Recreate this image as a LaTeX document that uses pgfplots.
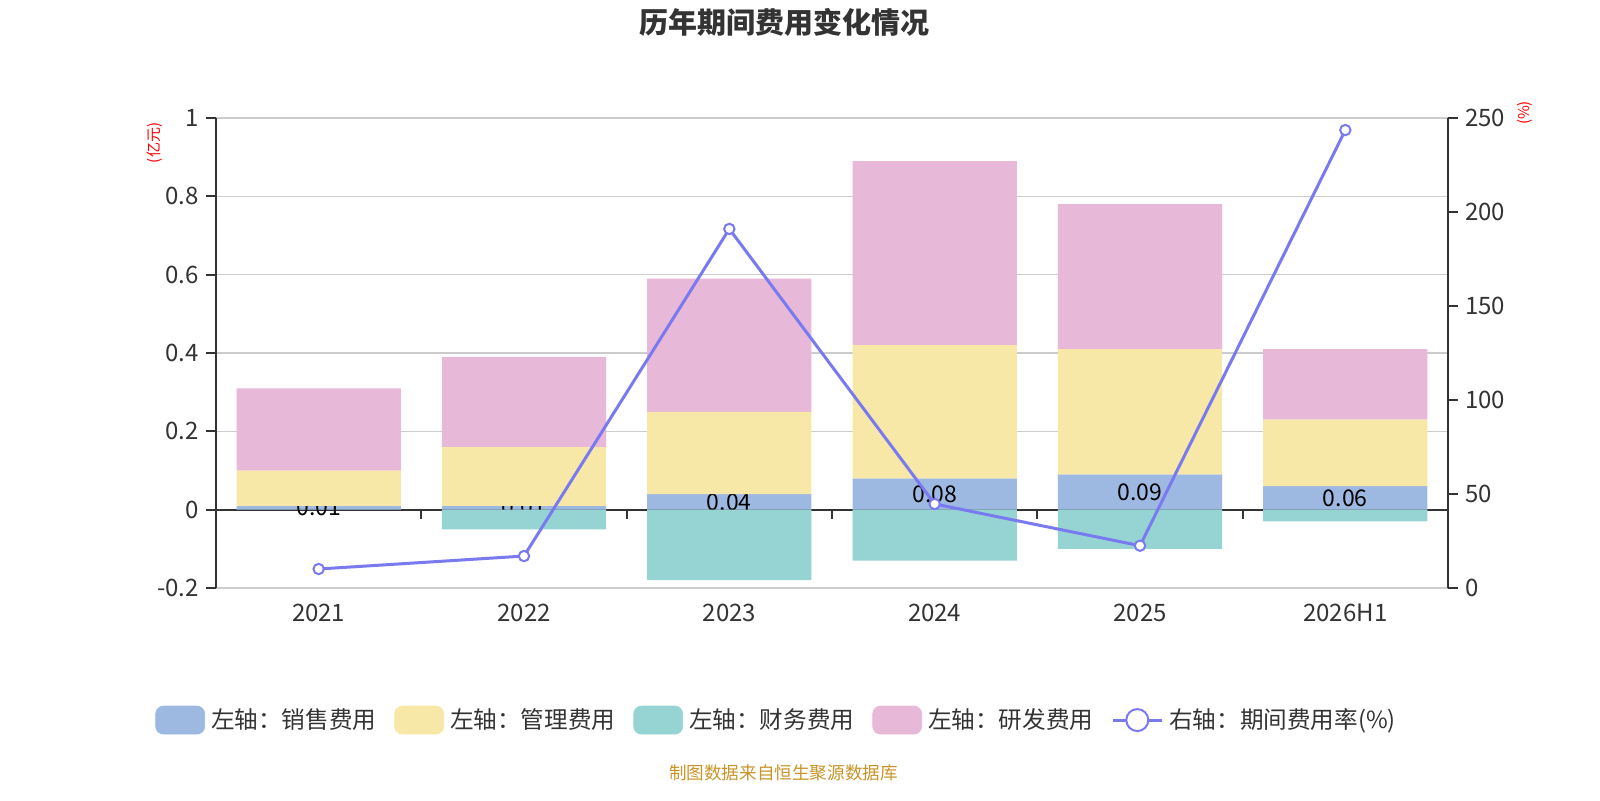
\documentclass[border=0pt]{standalone}
\usepackage{fontspec}
\setmainfont{Noto Sans CJK SC}
\usepackage{pgfplots}
\usepackage{pgfplotstable}
\pgfplotsset{compat=1.18}
\definecolor{colSal}{RGB}{157,185,226}
\definecolor{colMgt}{RGB}{248,232,168}
\definecolor{colFin}{RGB}{150,212,212}
\definecolor{colRnd}{RGB}{231,184,216}
\definecolor{colLine}{RGB}{122,122,240}
\definecolor{gridc}{RGB}{204,204,204}
\definecolor{txt}{RGB}{51,51,51}
\definecolor{src}{RGB}{200,148,40}
\pgfplotstableread{
x y h lab
0 0.01 0.005 0.01
1 0.01 0.005 0.01
2 0.04 0.020 0.04
3 0.08 0.040 0.08
4 0.09 0.045 0.09
5 0.06 0.030 0.06
}\sales
\pgfplotstableread{
x y
0 0.09
1 0.15
2 0.21
3 0.34
4 0.32
5 0.17
}\mgmt
\pgfplotstableread{
x y
0 0.21
1 0.23
2 0.34
3 0.47
4 0.37
5 0.18
}\rnd
\pgfplotstableread{
x y
0 0.00
1 -0.05
2 -0.18
3 -0.13
4 -0.10
5 -0.03
}\fin
\pgfplotstableread{
x y
0 10.1
1 17.0
2 191.0
3 44.7
4 22.5
5 243.6
}\rate
\pgfplotsset{
  base/.style={at={(108pt,106pt)}, anchor=south west, scale only axis,
    width=616pt, height=235pt, xmin=-0.5, xmax=5.5},
  tl/.style={font=\fontsize{12}{14}\selectfont, text=txt}
}
\begin{document}
\begin{tikzpicture}
\useasboundingbox (0,0) rectangle (800pt,400pt);
% frame axis
\begin{axis}[base, ymin=-0.2, ymax=1,
  ytick={-0.2,0,0.2,0.4,0.6,0.8,1},
  yticklabels={-0.2,0,0.2,0.4,0.6,0.8,1},
  xtick={0,1,2,3,4,5},
  xticklabels={2021,2022,2023,2024,2025,2026H1},
  axis y line*=left, axis x line*=bottom,
  axis line style={-},
  x axis line style={draw=none},
  xtick style={draw=none},
  y axis line style={txt, line width=1pt},
  ytick style={txt, line width=1pt},
  tick align=outside, major tick length=5pt,
  ymajorgrids, grid style={gridc, line width=0.6pt},
  ticklabel style={tl},
  xticklabel style={yshift=0.5pt},
]
\draw[txt, line width=1pt] (axis cs:-0.5,0) -- (axis cs:5.5,0);
\pgfplotsinvokeforeach{0.5,1.5,2.5,3.5,4.5}{
  \draw[txt, line width=1pt] (axis cs:#1,0) -- ++(0pt,-4.5pt);
}
\end{axis}
% sales bars and their labels
\begin{axis}[base, ymin=-0.2, ymax=1, hide axis]
\addplot[ybar, bar width=0.8, bar shift=0pt, fill=colSal, draw=none] table[x=x, y=y] {\sales};
\addplot[only marks, mark=*, mark size=0pt, mark options={draw=none, fill=none},
  nodes near coords, point meta=explicit symbolic,
  every node near coord/.style={anchor=center,
    font=\fontsize{11.5}{13}\selectfont, text=black, inner sep=0pt}]
  table[x=x, y=h, meta=lab] {\sales};
\end{axis}
% stacked positive bars above sales
\begin{axis}[base, ymin=-0.2, ymax=1, hide axis, ybar stacked, bar width=0.8]
\addplot[fill=none, draw=none] table[x=x, y=y] {\sales};
\addplot[fill=colMgt, draw=none] table[x=x, y=y] {\mgmt};
\addplot[fill=colRnd, draw=none] table[x=x, y=y] {\rnd};
\end{axis}
% negative finance bars
\begin{axis}[base, ymin=-0.2, ymax=1, hide axis, ybar, bar width=0.8, bar shift=0pt]
\addplot[fill=colFin, draw=none] table[x=x, y=y] {\fin};
\end{axis}
% right axis, line, legend
\begin{axis}[base, ymin=0, ymax=250,
  axis y line*=right, axis x line=none,
  axis line style={-},
  y axis line style={txt, line width=1pt},
  ytick={0,50,100,150,200,250},
  yticklabels={0,50,100,150,200,250},
  ytick style={txt, line width=1pt},
  tick align=outside, major tick length=5pt,
  ticklabel style={tl},
  legend columns=5,
  legend style={at={(0.4558,-0.281)}, anchor=center, draw=none, fill=none,
    font=\fontsize{11.8}{14}\selectfont, text=txt,
    /tikz/every odd column/.append style={column sep=1pt},
    /tikz/every even column/.append style={column sep=7pt}},
]
\addplot[colLine, line width=1.5pt, mark=*, mark size=2.6pt,
  mark options={fill=white, draw=colLine, line width=1pt}, forget plot]
  table[x=x, y=y] {\rate};
\addlegendimage{legend image code/.code={\fill[colSal, rounded corners=4pt] (0pt,-7pt) rectangle (24.5pt,7pt);}}
\addlegendimage{legend image code/.code={\fill[colMgt, rounded corners=4pt] (0pt,-7pt) rectangle (24.5pt,7pt);}}
\addlegendimage{legend image code/.code={\fill[colFin, rounded corners=4pt] (0pt,-7pt) rectangle (24.5pt,7pt);}}
\addlegendimage{legend image code/.code={\fill[colRnd, rounded corners=4pt] (0pt,-7pt) rectangle (24.5pt,7pt);}}
\addlegendimage{legend image code/.code={\draw[colLine, line width=1.5pt] (0pt,0pt) -- (24.5pt,0pt); \draw[colLine, line width=1pt, fill=white] (12.25pt,0pt) circle (5.5pt);}}
\legend{左轴：销售费用, 左轴：管理费用, 左轴：财务费用, 左轴：研发费用, 右轴：期间费用率(\%)}
\end{axis}
\node[font=\fontsize{14.5}{16}\selectfont\bfseries, text=txt] at (392pt,389pt) {历年期间费用变化情况};
\node[font=\fontsize{8.8}{10}\selectfont, text=src] at (391.75pt,13.5pt) {制图数据来自恒生聚源数据库};
\node[font=\fontsize{7.5}{8}\selectfont, text=red, rotate=90] at (77.5pt,328.5pt) {(亿元)};
\node[font=\fontsize{7.5}{8}\selectfont, text=red, rotate=90] at (762.5pt,343.5pt) {(\%)};
\end{tikzpicture}
\end{document}
